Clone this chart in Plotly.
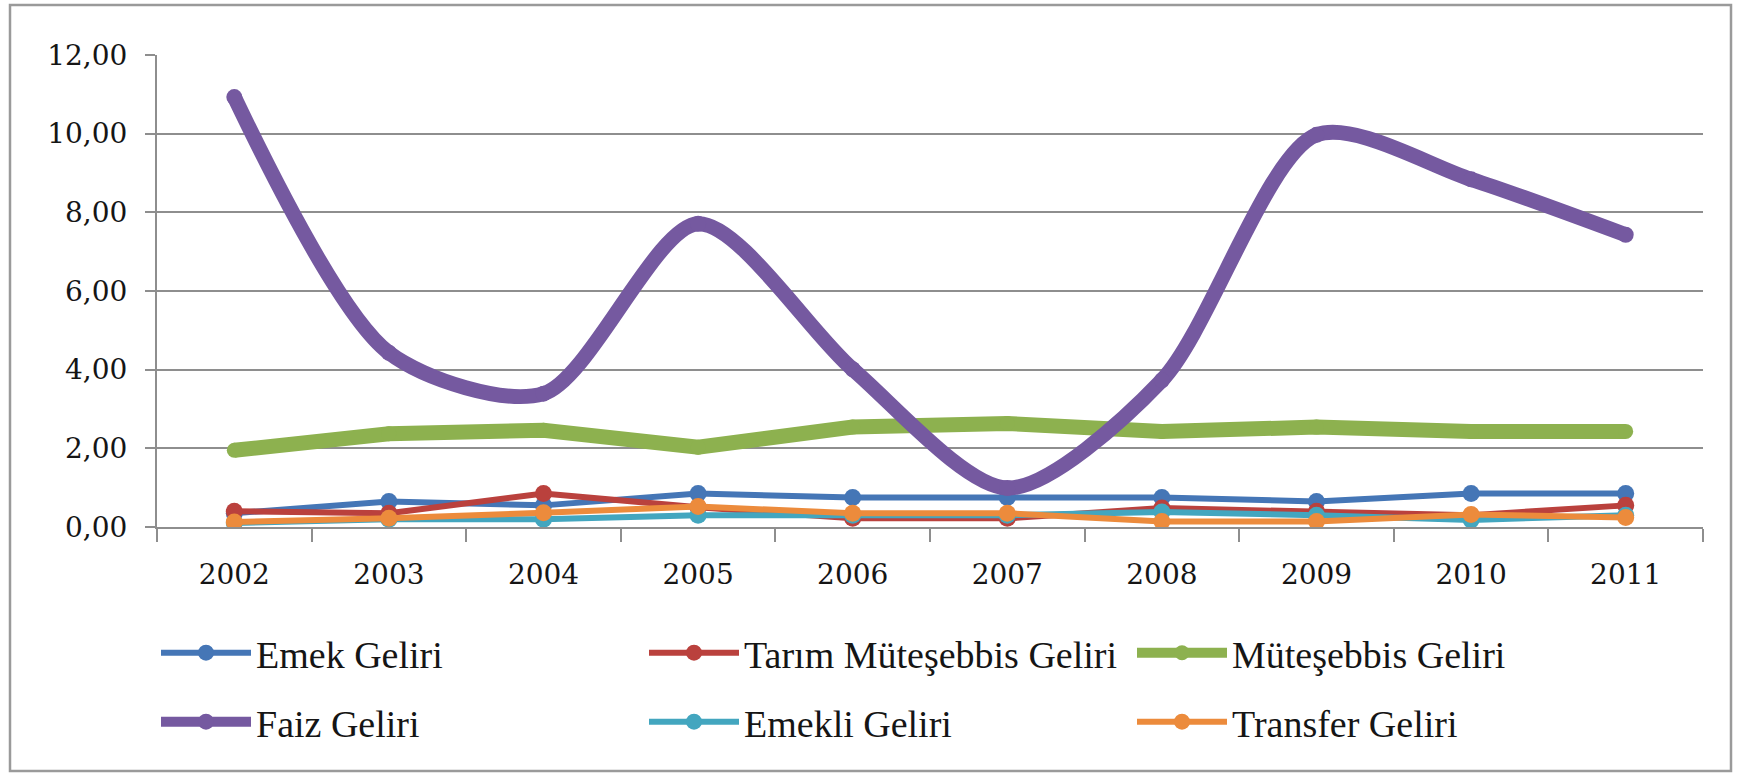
import plotly.graph_objects as go

years = ["2002", "2003", "2004", "2005", "2006", "2007", "2008", "2009", "2010", "2011"]
emek = [0.35, 0.65, 0.55, 0.85, 0.75, 0.75, 0.75, 0.65, 0.85, 0.85]
tarim = [0.40, 0.35, 0.85, 0.50, 0.22, 0.22, 0.48, 0.40, 0.30, 0.55]
mutesebbis = [1.95, 2.37, 2.46, 2.03, 2.54, 2.63, 2.43, 2.54, 2.43, 2.43]
faiz = [10.93, 4.43, 3.39, 7.71, 4.01, 0.99, 3.73, 9.97, 8.84, 7.43]
emekli = [0.10, 0.20, 0.20, 0.30, 0.30, 0.30, 0.38, 0.30, 0.18, 0.30]
transfer = [0.13, 0.22, 0.36, 0.52, 0.35, 0.35, 0.14, 0.14, 0.32, 0.24]

series = [
    ("Emek Geliri", emek, "#4576B6", 6, 17, "linear", "legend"),
    ("Tarım Müteşebbis Geliri", tarim, "#BA413D", 6, 17, "linear", "legend"),
    ("Müteşebbis Geliri", mutesebbis, "#8DB14F", 15, 15, "linear", "legend"),
    ("Faiz Geliri", faiz, "#7559A0", 15, 16, "spline", "legend2"),
    ("Emekli Geliri", emekli, "#43A6BF", 6, 17, "linear", "legend2"),
    ("Transfer Geliri", transfer, "#EC8B3C", 6, 17, "linear", "legend2"),
]

fig = go.Figure()
for name, vals, col, lw, ms, shape, lg in series:
    fig.add_trace(go.Scatter(
        x=years, y=vals, name=name, mode="lines+markers",
        line=dict(color=col, width=lw, shape=shape, smoothing=0.8),
        marker=dict(color=col, size=ms),
        legend=lg,
    ))

W, H = 1739, 774
L, R, T, B = 157, 36, 55, 247
pw = W - L - R
ph = H - T - B

def px_x(p):
    return (p - L) / pw

def px_y(p):
    return (H - B - p) / ph

grid = "#8E8E8E"
legend_common = dict(
    orientation="h", xanchor="left", yanchor="middle",
    font=dict(family="Liberation Serif", size=38, color="#151515"),
    entrywidth=383, entrywidthmode="pixels", itemwidth=90,
    bgcolor="rgba(0,0,0,0)", traceorder="normal",
)

fig.update_layout(
    width=W, height=H,
    margin=dict(l=L, r=R, t=T, b=B, autoexpand=False),
    paper_bgcolor="white", plot_bgcolor="white",
    separators=",.",
    showlegend=True,
    legend=dict(x=px_x(156), y=px_y(653), **legend_common),
    legend2=dict(x=px_x(156), y=px_y(722), **legend_common),
    font=dict(family="DejaVu Serif", color="#151515"),
    xaxis=dict(
        type="category", range=[-0.5, 9.5],
        showline=True, linecolor=grid, linewidth=2,
        ticks="outside", tickson="boundaries", ticklen=13, tickwidth=2, tickcolor=grid,
        showgrid=False,
        tickfont=dict(family="DejaVu Serif", size=28, color="#151515"),
        ticklabelstandoff=21,
    ),
    yaxis=dict(
        range=[0, 12], dtick=2, tickformat=".2f",
        showline=True, linecolor=grid, linewidth=2,
        ticks="outside", ticklen=10, tickwidth=2, tickcolor=grid,
        showgrid=True, gridcolor=grid, gridwidth=2,
        zeroline=False,
        tickfont=dict(family="DejaVu Serif", size=28, color="#151515"),
        ticklabelstandoff=12,
    ),
    shapes=[dict(
        type="rect", xref="paper", yref="paper",
        x0=px_x(10), x1=px_x(1731), y0=px_y(771), y1=px_y(5),
        line=dict(color="#9A9A9A", width=2.5), fillcolor="rgba(0,0,0,0)", layer="below",
    )],
)

fig.write_html("out.html", config={"displayModeBar": False},
               post_script="document.body.style.margin='0';")
